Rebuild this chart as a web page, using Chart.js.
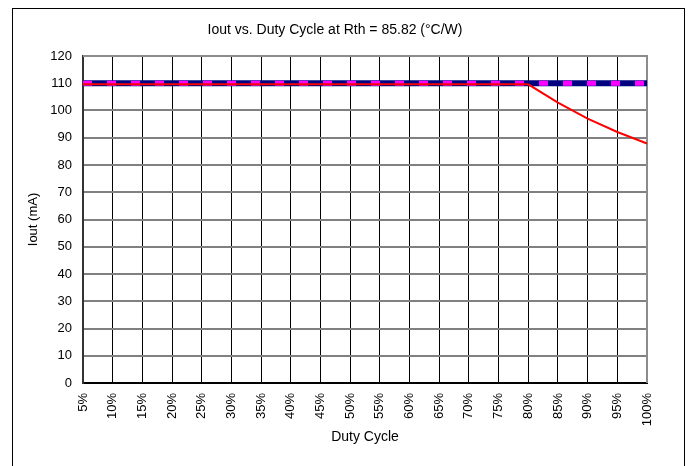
<!DOCTYPE html>
<html>
<head>
<meta charset="utf-8">
<script src="https://cdn.jsdelivr.net/npm/chart.js@4/dist/chart.umd.min.js"></script>
<style>
  html, body { margin: 0; padding: 0; background: #fff; overflow: hidden; }
  #wrap { position: relative; width: 690px; height: 466px; }
  #frame { position: absolute; left: 12px; top: 8px; width: 673px; height: 520px; border: 1px solid #000; box-sizing: border-box; }
  canvas { position: absolute; left: 0; top: 0; }
</style>
</head>
<body>
<div id="wrap">
  <div id="frame"></div>
  <canvas id="myChart" width="690" height="466"></canvas>
</div>
<script>
const dutyCycle = ["5%", "10%", "15%", "20%", "25%", "30%", "35%", "40%", "45%", "50%",
  "55%", "60%", "65%", "70%", "75%", "80%", "85%", "90%", "95%", "100%"];
const ioutSet = [110, 110, 110, 110, 110, 110, 110, 110, 110, 110,
  110, 110, 110, 110, 110, 110, 110, 110, 110, 110];
const ioutLimit = [110, 110, 110, 110, 110, 110, 110, 110, 110, 110,
  110, 110, 110, 110, 110, 110, 110, 110, 110, 110];
const ioutActual = [109.6, 109.6, 109.6, 109.6, 109.6, 109.6, 109.6, 109.6, 109.6, 109.6,
  109.6, 109.6, 109.6, 109.6, 109.6, 109.6, 102.9, 97.0, 92.1, 87.9];
const chartTitle = "Iout vs. Duty Cycle at Rth = 85.82 (°C/W)";

const font = "Arial, 'Liberation Sans', sans-serif";

// title sits a little left of the plot centre, so draw it by hand
const titlePlugin = {
  id: "titleText",
  afterDraw(chart) {
    const ctx = chart.ctx;
    ctx.save();
    ctx.font = "14px " + font;
    ctx.fillStyle = "#000";
    ctx.textAlign = "center";
    ctx.textBaseline = "middle";
    ctx.fillText(chartTitle, 335, 30);
    ctx.restore();
  }
};

// grey frame on top and right of the plot
const framePlugin = {
  id: "plotFrame",
  beforeDatasetsDraw(chart) {
    const { ctx, chartArea } = chart;
    ctx.save();
    ctx.strokeStyle = "#8c8c8c";
    ctx.lineWidth = 2;
    ctx.beginPath();
    ctx.moveTo(chartArea.left, chartArea.top);
    ctx.lineTo(chartArea.right, chartArea.top);
    ctx.lineTo(chartArea.right, chartArea.bottom);
    ctx.stroke();
    ctx.restore();
  }
};

const ctx = document.getElementById("myChart").getContext("2d");
const myChart = new Chart(ctx, {
  type: "line",
  data: {
    labels: dutyCycle,
    datasets: [
      {
        label: "Iout actual",
        data: ioutActual,
        borderColor: "#ff0000",
        borderWidth: 2,
        pointRadius: 0,
        order: 0
      },
      {
        label: "Iout limit",
        data: ioutLimit,
        borderColor: "#ff00ff",
        borderWidth: 5,
        borderDash: [9, 15],
        pointRadius: 0,
        order: 1
      },
      {
        label: "Iout set",
        data: ioutSet,
        borderColor: "#000080",
        borderWidth: 6,
        pointRadius: 0,
        order: 2
      }
    ]
  },
  options: {
    responsive: false,
    animation: false,
    layout: { padding: { top: 56, right: 43, left: 0, bottom: 0 } },
    plugins: {
      legend: { display: false },
      title: { display: false },
      tooltip: { enabled: false }
    },
    scales: {
      x: {
        offset: false,
        afterFit(scale) { scale.height = 83; },
        grid: {
          color: (c) => c.index === dutyCycle.length - 1 ? "rgba(0,0,0,0)" : "#000",
          lineWidth: 1,
          drawTicks: false
        },
        border: { color: "#000", width: 2 },
        ticks: {
          color: "#000",
          font: { family: font, size: 13 },
          minRotation: 90,
          maxRotation: 90,
          autoSkip: false,
          padding: 10
        },
        title: {
          display: true,
          text: "Duty Cycle",
          color: "#000",
          font: { family: font, size: 14 },
          padding: { top: 0, bottom: 20 }
        }
      },
      y: {
        min: 0,
        max: 120,
        afterFit(scale) { scale.width = 83; },
        grid: {
          color: (c) => c.index === 0 ? "#000" : "#808080",
          lineWidth: 2,
          drawTicks: false
        },
        border: { color: "#333", width: 2 },
        ticks: {
          stepSize: 10,
          color: "#000",
          font: { family: font, size: 13 },
          padding: 11
        },
        title: {
          display: true,
          text: "Iout (mA)",
          color: "#000",
          font: { family: font, size: 13 },
          padding: { top: 26, bottom: 0 }
        }
      }
    }
  },
  plugins: [titlePlugin, framePlugin]
});
</script>
</body>
</html>
